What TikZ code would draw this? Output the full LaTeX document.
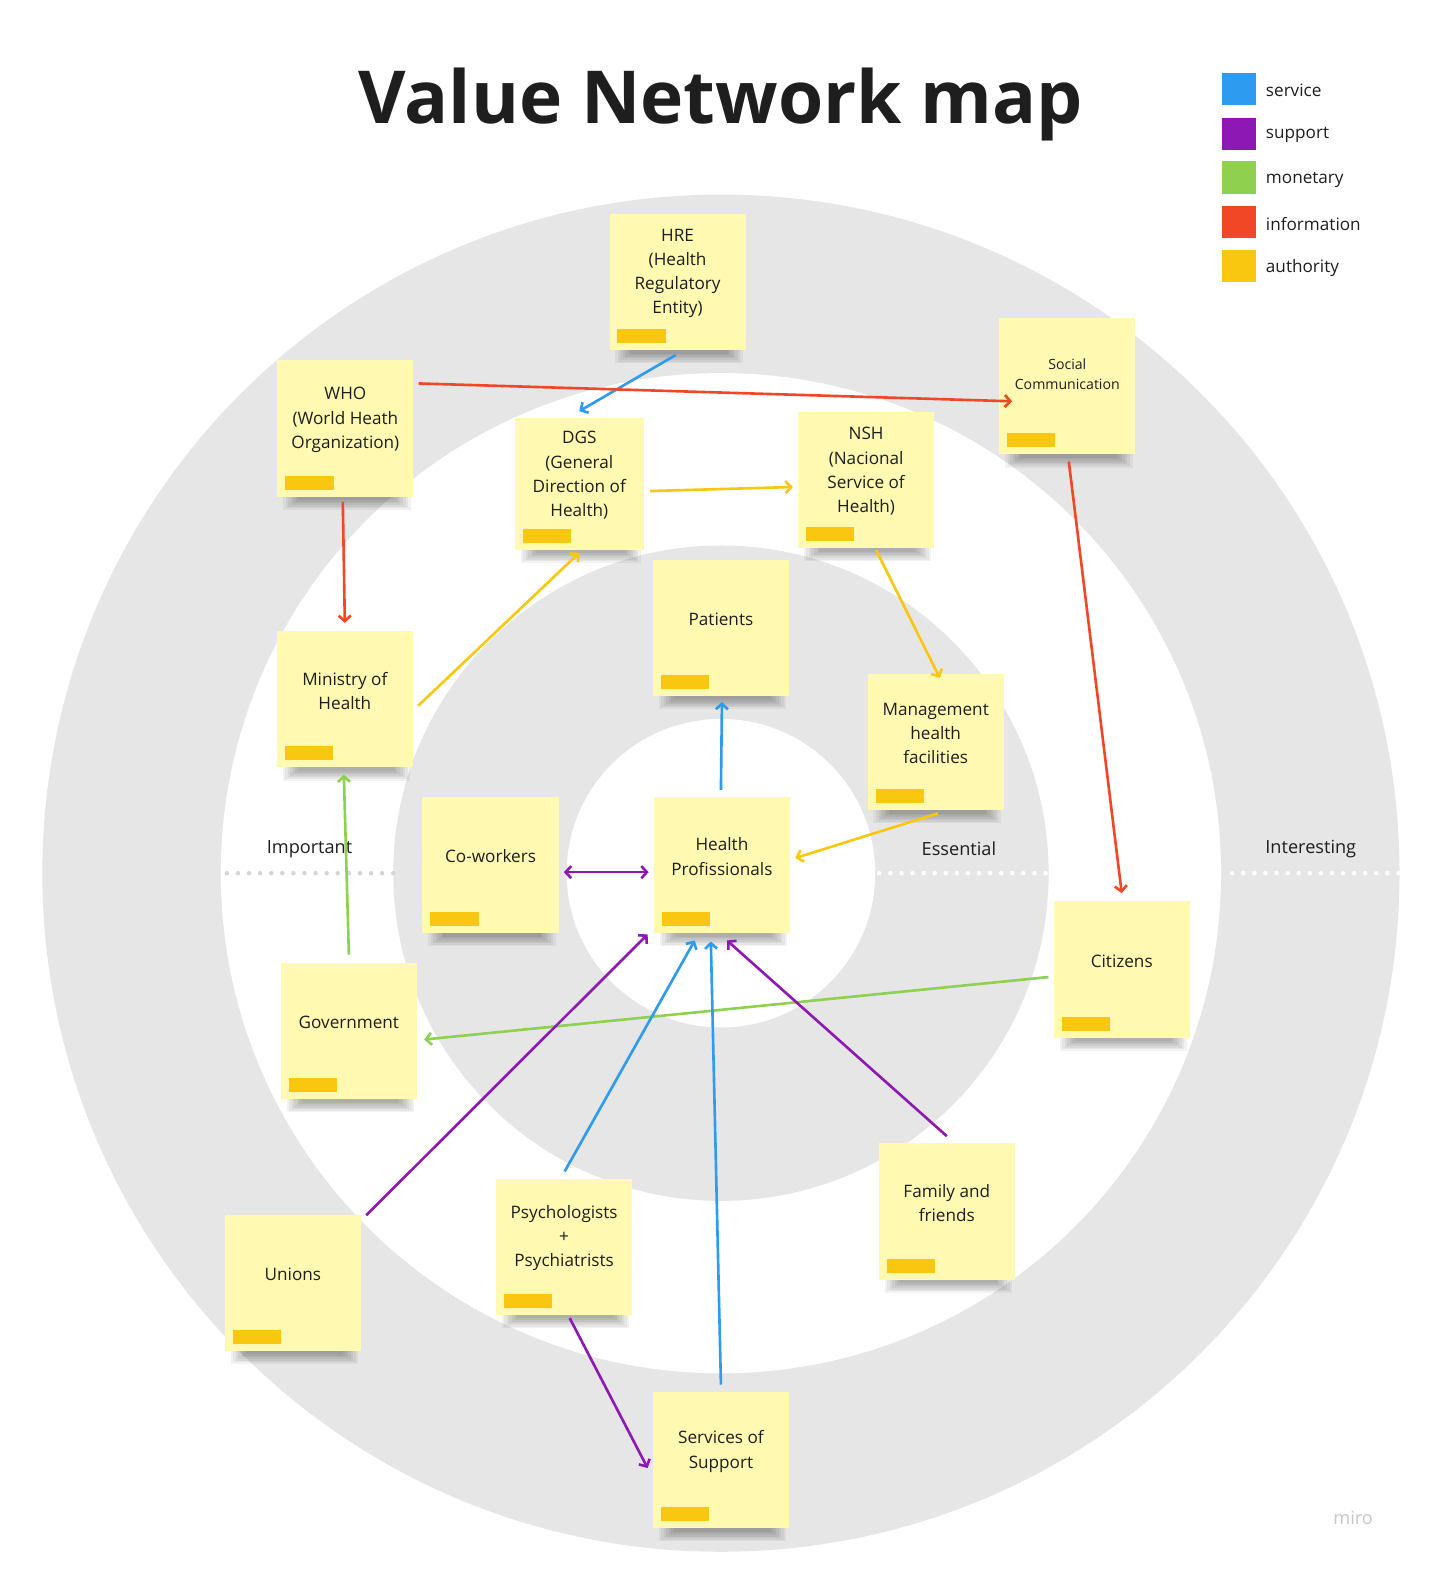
\documentclass[tikz,border=0pt]{standalone}
\usepackage{fontspec}
\setmainfont{Open Sans}
\usetikzlibrary{arrows.meta,calc}
\pgfdeclarelayer{bglayer}
\pgfdeclarelayer{shadowlayer}
\pgfsetlayers{bglayer,shadowlayer,main}
\definecolor{ringgray}{HTML}{E6E6E6}
\definecolor{dotgray}{HTML}{D4D4D4}
\definecolor{notefill}{HTML}{FFF9B1}
\definecolor{cservice}{HTML}{2D9BF0}
\definecolor{csupport}{HTML}{8D18B4}
\definecolor{cmonetary}{HTML}{8FD14F}
\definecolor{cinfo}{HTML}{F24726}
\definecolor{cauth}{HTML}{FAC710}
\definecolor{txt}{HTML}{1E1E1E}
\tikzset{
  notebox/.style={rectangle,fill=notefill,minimum width=135pt,minimum height=135pt,inner sep=0pt,draw=none},
  notetext/.style={align=center,text=txt,font=\fontsize{17}{24}\selectfont},
  smalltext/.style={font=\fontsize{14}{20}\selectfont,yshift=3pt},
  conn/.style={line width=2.6pt,-{Straight Barb[length=5.5pt,width=12pt,line width=2.6pt]}},
  biconn/.style={line width=2.6pt,{Straight Barb[length=5.5pt,width=12pt,line width=2.6pt]}-{Straight Barb[length=5.5pt,width=12pt,line width=2.6pt]}},
  legsq/.style={rectangle,minimum width=34pt,minimum height=32pt,inner sep=0pt},
  legtxt/.style={anchor=west,text=txt,font=\fontsize{17}{20}\selectfont},
  ringlbl/.style={text=txt,font=\fontsize{18}{20}\selectfont},
}
\newcommand\mknote[6][]{%
  \node[notebox,#6] (#2) at (#3,#4) {};
  \begin{pgfonlayer}{shadowlayer}
  \foreach \ii in {0,...,6} {
    \fill[black,opacity=.05] ([xshift={6pt+2.5pt*\ii},yshift=12pt]#2.south west) rectangle ([xshift={-3pt-2.5pt*\ii},yshift={-13pt+1.6pt*\ii}]#2.south east);
  }
  \end{pgfonlayer}
  \fill[cauth] ([xshift=8pt,yshift=7pt]#2.south west) rectangle ++(48pt,14pt);
  \node[notetext,#1] at ([yshift=8.5pt]#2.center) {#5};
}
\begin{document}
\begin{tikzpicture}[x=1pt,y=-1pt]
\useasboundingbox (0,0) rectangle (1433,1568);
\begin{pgfonlayer}{bglayer}
\fill[white] (0,0) rectangle (1433,1568);
% rings
\fill[ringgray] (715,866) circle[radius=673pt];
\fill[white] (715,866) circle[radius=496pt];
\fill[ringgray] (715,866) circle[radius=325pt];
\fill[white] (715,866) circle[radius=153pt];
% dotted separators
\foreach \x in {225,236,...,390} \fill[dotgray] (\x,866) circle[radius=2.2pt];
\foreach \x in {872,883,...,1040} \fill[white] (\x,866) circle[radius=2.2pt];
\foreach \x in {1222,1233,...,1388} \fill[white] (\x,866) circle[radius=2.2pt];
\end{pgfonlayer}
\node[ringlbl] (lImp) at (307,842) {Important};
\node[ringlbl] (lEss) at (951,842) {Essential};
\node[ringlbl] (lInt) at (1300,842) {Interesting};
% title
\node[text=txt,font=\fontsize{72.5}{80}\selectfont\bfseries] (title) at (715,104) {Value Network map};
% legend
\node[legsq,fill=cservice] (sq1) at (1229,88) {};
\node[legsq,fill=csupport] (sq2) at (1229,133) {};
\node[legsq,fill=cmonetary] (sq3) at (1229,176) {};
\node[legsq,fill=cinfo] (sq4) at (1229,220) {};
\node[legsq,fill=cauth] (sq5) at (1229,264) {};
\node[legtxt] at (1252,90) {service};
\node[legtxt] at (1252,134) {support};
\node[legtxt] at (1252,178) {monetary};
\node[legtxt] at (1252,222) {information};
\node[legtxt] at (1252,266) {authority};
% notes
\mknote{hre}{672}{279.5}{HRE\\(Health\\Regulatory\\Entity)}{}
\mknote{who}{342.5}{425}{WHO\\(World Heath\\Organization)}{}
\mknote[smalltext]{soc}{1058.5}{383}{Social\\Communication}{}
\mknote{dgs}{574.5}{480}{DGS\\(General\\Direction of\\Health)}{minimum width=128pt,minimum height=130pt}
\mknote{nsh}{859}{476}{NSH\\(Nacional\\Service of\\Health)}{}
\mknote{pat}{715}{622.5}{Patients}{}
\mknote{min}{342}{693.5}{Ministry of\\Health}{}
\mknote{mgmt}{928}{736}{Management\\health\\facilities}{}
\mknote{cow}{486.5}{858}{Co-workers}{}
\mknote{hp}{716}{858}{Health\\Profissionals}{}
\mknote{cit}{1112.5}{961.5}{Citizens}{}
\mknote{gov}{346}{1022.5}{Government}{}
\mknote{fam}{939}{1201.5}{Family and\\friends}{}
\mknote{psy}{559.5}{1236.5}{Psychologists\\+\\Psychiatrists}{}
\mknote{uni}{290.5}{1272}{Unions}{}
\mknote{sos}{715}{1448}{Services of\\Support}{}
% connectors
\draw[conn,cservice] ([xshift=-2pt,yshift=-5pt]hre.south) -- ([yshift=7pt]dgs.north);
\draw[conn,cinfo] ([xshift=5pt,yshift=-23pt]who.north east) -- ([xshift=13pt,yshift=-15pt]soc.west);
\draw[conn,cinfo] ([xshift=-2.5pt,yshift=-5pt]who.south) -- ([yshift=8pt]min.north);
\draw[conn,cauth] ([xshift=6pt,yshift=-7pt]dgs.east) -- ([xshift=-5pt,yshift=-7pt]nsh.west);
\draw[conn,cauth] ([xshift=5pt,yshift=-6.5pt]min.east) -- ([yshift=-3pt]dgs.south);
\draw[conn,cauth] ([xshift=10pt,yshift=-2pt]nsh.south) -- ([xshift=4pt,yshift=-4pt]mgmt.north);
\draw[conn,cinfo] ([xshift=1.5pt,yshift=-7pt]soc.south) -- ([yshift=8pt]cit.north);
\draw[conn,cauth] ([xshift=2pt,yshift=-3pt]mgmt.south) -- ([xshift=5pt,yshift=7pt]hp.east);
\draw[conn,cservice] ([xshift=-1pt,yshift=7pt]hp.north) -- ([xshift=1pt,yshift=-6pt]pat.south);
\draw[biconn,csupport] ([xshift=5pt,yshift=-7pt]cow.east) -- ([xshift=-5pt,yshift=-7pt]hp.west);
\draw[conn,cmonetary] ([yshift=8pt]gov.north) -- ([xshift=-1pt,yshift=-7pt]min.south);
\draw[conn,cmonetary] ([xshift=-5pt,yshift=-7.5pt]cit.west) -- ([xshift=7pt,yshift=-8.5pt]gov.east);
\draw[conn,csupport] ([xshift=5pt,yshift=-1pt]uni.north east) -- ([xshift=-6pt,yshift=-1pt]hp.south west);
\draw[conn,cservice] ([xshift=0.5pt,yshift=7pt]psy.north) -- ([xshift=-27pt,yshift=-7pt]hp.south);
\draw[conn,cservice] ([yshift=7pt]sos.north) -- ([xshift=-11pt,yshift=-8pt]hp.south);
\draw[conn,csupport] ([yshift=7pt]fam.north) -- ([xshift=5pt,yshift=-7pt]hp.south);
\draw[conn,csupport] ([xshift=5.5pt,yshift=-3pt]psy.south) -- ([xshift=-5pt,yshift=-8pt]sos.west);
% watermark
\node[text=black!22,font=\fontsize{18}{20}\selectfont] (miro) at (1342,1505) {miro};
\end{tikzpicture}
\end{document}
